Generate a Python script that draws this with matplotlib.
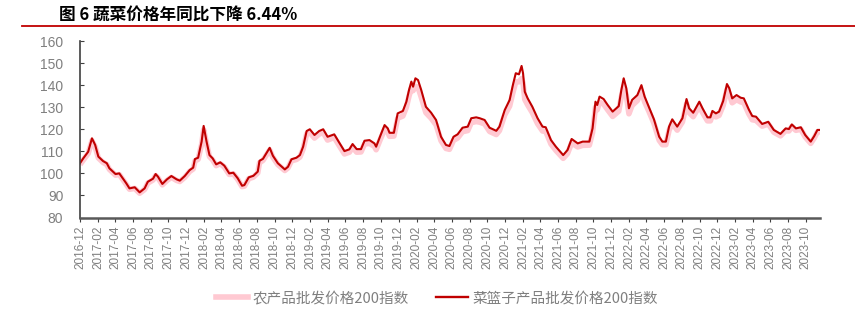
import pandas as pd
import matplotlib
matplotlib.use("Agg")
import matplotlib.pyplot as plt
import matplotlib.dates as mdates
from matplotlib.lines import Line2D

plt.rcParams["font.family"] = ["Noto Sans CJK SC", "DejaVu Sans"]

# fechas (aprox.)
fechas = [
    "2016-12-01", "2016-12-12", "2016-12-29", "2017-01-11", "2017-01-22", "2017-02-02", "2017-02-18",
    "2017-03-03", "2017-03-12", "2017-04-02", "2017-04-15", "2017-05-09", "2017-05-20", "2017-06-07",
    "2017-06-24", "2017-07-11", "2017-07-22", "2017-08-09", "2017-08-18", "2017-08-26", "2017-09-10",
    "2017-09-26", "2017-10-11", "2017-10-29", "2017-11-09", "2017-11-26", "2017-12-13", "2017-12-25",
    "2017-12-31", "2018-01-11", "2018-01-23", "2018-01-30", "2018-02-09", "2018-02-19", "2018-03-02",
    "2018-03-14", "2018-03-28", "2018-04-11", "2018-04-28", "2018-05-12", "2018-05-27", "2018-06-11",
    "2018-06-19", "2018-07-04", "2018-07-20", "2018-08-04", "2018-08-10", "2018-08-22", "2018-09-02",
    "2018-09-14", "2018-09-25", "2018-10-12", "2018-11-05", "2018-11-16", "2018-11-28",
    "2018-12-15", "2018-12-27", "2019-01-07", "2019-01-19", "2019-01-30", "2019-02-15", "2019-03-03",
    "2019-03-17", "2019-04-01", "2019-04-24", "2019-05-09", "2019-05-29", "2019-06-15", "2019-06-26",
    "2019-07-10", "2019-07-25", "2019-08-06", "2019-08-23", "2019-09-09", "2019-09-15", "2019-09-29",
    "2019-10-14", "2019-10-25", "2019-10-31", "2019-11-15", "2019-11-28",
    "2019-12-16", "2019-12-28", "2020-01-06", "2020-01-14", "2020-01-20", "2020-01-28", "2020-02-06",
    "2020-02-17", "2020-03-04", "2020-03-22", "2020-04-08", "2020-04-25", "2020-05-12", "2020-05-24",
    "2020-06-07", "2020-06-21", "2020-07-08", "2020-07-26", "2020-08-07", "2020-08-24", "2020-09-05",
    "2020-09-22", "2020-10-09", "2020-11-01", "2020-11-12", "2020-11-30",
    "2020-12-17", "2020-12-28", "2021-01-07", "2021-01-18", "2021-01-27", "2021-02-01", "2021-02-07",
    "2021-02-17", "2021-03-05", "2021-03-23", "2021-04-09",
    "2021-04-20", "2021-05-08", "2021-05-25", "2021-06-19", "2021-07-04", "2021-07-18", "2021-08-08",
    "2021-08-25", "2021-09-17", "2021-09-28",
    "2021-10-08", "2021-10-14", "2021-10-22", "2021-11-05", "2021-11-19", "2021-12-06", "2021-12-27",
    "2022-01-05", "2022-01-13", "2022-01-22", "2022-01-31", "2022-02-11", "2022-03-01", "2022-03-15",
    "2022-03-26",
    "2022-04-10", "2022-04-27", "2022-05-15", "2022-05-26", "2022-06-07", "2022-06-18", "2022-06-29",
    "2022-07-16", "2022-08-03", "2022-08-17", "2022-08-26", "2022-09-09", "2022-09-30", "2022-10-11",
    "2022-10-28", "2022-11-07", "2022-11-14", "2022-11-26",
    "2022-12-07", "2022-12-21", "2023-01-03", "2023-01-11", "2023-01-21", "2023-02-05", "2023-02-19",
    "2023-03-02", "2023-03-19", "2023-03-31", "2023-04-13",
    "2023-05-04", "2023-05-25", "2023-06-13", "2023-07-06", "2023-07-24", "2023-08-04", "2023-08-14",
    "2023-08-28", "2023-09-14", "2023-09-29", "2023-10-18", "2023-10-30", "2023-11-10", "2023-11-18",
]

# 菜篮子产品批发价格200指数
cesta = [
    104.6, 106.8, 109.8, 115.9, 112.9, 107.6, 105.6, 104.6, 102.3, 99.7, 100.0, 95.5, 93.2, 93.7,
    91.4, 93.2, 96.2, 97.6, 99.7, 98.5, 95.2, 97.3, 98.8, 97.3, 96.7, 98.8, 101.5, 102.6,
    106.5, 107.1, 114.4, 121.5, 114.4, 108.3, 106.8, 104.1, 105.0, 103.5, 100.0, 100.3, 97.8, 94.4,
    94.7, 98.2, 98.9, 100.8, 105.7, 106.6, 109.0, 111.6, 108.0, 104.6, 101.8, 103.0, 106.4,
    107.1, 108.3, 112.1, 119.2, 120.0, 117.4, 119.2, 120.0, 116.6, 117.7, 114.4, 110.1, 110.9, 113.3,
    111.0, 111.0, 114.8, 115.1, 113.6, 112.1, 116.9, 121.9, 120.4, 118.4, 118.4, 127.2,
    128.3, 132.5, 137.8, 141.6, 139.3, 143.1, 142.3, 137.8, 130.2, 127.5, 124.2, 116.6, 112.9, 112.4,
    116.6, 117.7, 120.7, 121.2, 125.0, 125.4, 125.0, 124.2, 120.7, 119.3, 121.2, 128.7,
    133.3, 140.0, 145.4, 144.9, 148.7, 145.4, 137.0, 134.0, 130.2, 125.0, 121.2,
    120.9, 115.1, 112.1, 108.3, 110.6, 115.6, 113.6, 114.4, 114.4, 120.4,
    132.5, 131.0, 134.8, 133.7, 131.0, 128.0, 130.5, 137.8, 143.1, 138.6, 129.5, 133.3, 135.5, 140.0,
    134.8,
    130.0, 124.5, 116.6, 114.4, 114.4, 121.2, 124.5, 121.2, 125.0, 133.7, 129.5, 127.5, 132.5, 129.5,
    125.4, 125.4, 128.3, 127.2,
    128.0, 132.8, 140.5, 138.6, 134.0, 135.5, 134.3, 134.0, 129.0, 126.0, 125.7,
    122.4, 123.4, 119.7, 117.9, 120.4, 120.1, 122.2, 120.4, 120.9, 117.4, 114.4, 116.9, 119.7, 119.7,
]

# 农产品批发价格200指数
agro = [
    104.0, 106.0, 109.0, 114.8, 112.0, 107.0, 105.0, 104.0, 101.8, 99.2, 99.5, 95.0, 92.8, 93.2,
    91.0, 92.7, 95.6, 97.0, 99.0, 98.0, 94.8, 96.8, 98.2, 96.8, 96.3, 98.2, 100.9, 102.0,
    105.6, 106.4, 113.2, 119.8, 113.4, 107.6, 106.1, 103.5, 104.4, 102.9, 99.5, 99.8, 97.3, 94.0,
    94.2, 97.6, 98.3, 100.2, 104.8, 105.9, 108.2, 110.6, 107.3, 104.0, 101.3, 102.5, 105.7,
    106.3, 107.4, 111.0, 117.9, 118.5, 116.0, 117.8, 118.5, 115.1, 116.3, 113.0, 108.8, 109.6, 111.9,
    109.6, 109.7, 113.3, 113.6, 112.2, 110.7, 115.3, 119.9, 118.6, 116.8, 116.9, 125.0,
    126.0, 130.0, 135.0, 138.5, 137.5, 139.5, 139.0, 134.5, 127.5, 125.0, 122.0, 114.8, 111.3, 110.9,
    115.0, 116.0, 118.9, 119.4, 123.0, 123.5, 123.2, 122.4, 119.0, 117.6, 119.4, 126.5,
    130.5, 136.5, 141.5, 141.5, 143.0, 141.0, 133.5, 131.0, 127.5, 122.5, 119.2,
    119.0, 113.3, 110.4, 106.8, 109.0, 113.8, 112.0, 112.7, 112.8, 118.5,
    130.0, 128.8, 132.3, 131.4, 128.8, 125.8, 128.2, 134.8, 139.5, 135.5, 127.0, 130.8, 133.0, 137.3,
    132.4,
    128.0, 122.7, 115.0, 113.0, 113.0, 119.5, 122.8, 119.6, 123.3, 131.5, 127.6, 125.7, 130.5, 127.6,
    123.8, 123.8, 126.6, 125.6,
    126.3, 130.8, 138.0, 136.0, 132.0, 133.4, 132.4, 132.0, 127.0, 124.3, 124.0,
    121.4, 122.4, 118.7, 117.0, 119.4, 119.2, 121.2, 119.5, 120.0, 116.5, 113.6, 116.0, 118.8, 118.9,
]

titulo = "图 6 蔬菜价格年同比下降 6.44%"
nombres = ["农产品批发价格200指数", "菜篮子产品批发价格200指数"]

df = pd.DataFrame({"fecha": pd.to_datetime(fechas), "cesta": cesta, "agro": agro})

rojo = "#C00000"
rosa = "#FFC9D2"
gris = "#7F7F7F"

fig = plt.figure(figsize=(8.55, 3.23), dpi=100)
ax = fig.add_axes([0.0936, 0.3266, 0.8655, 0.5464])

ax.plot(df["fecha"], df["agro"], color=rosa, lw=4, solid_capstyle="butt")
ax.plot(df["fecha"], df["cesta"], color=rojo, lw=1.5)

ax.set_ylim(80, 160)
ax.set_yticks(range(80, 161, 10))
ax.set_xlim(pd.Timestamp("2016-12-01"), pd.Timestamp("2023-11-19"))
ax.xaxis.set_major_locator(mdates.MonthLocator(bymonth=[2, 4, 6, 8, 10, 12]))
ax.xaxis.set_major_formatter(mdates.DateFormatter("%Y-%m"))

for lado in ["top", "right"]:
    ax.spines[lado].set_visible(False)
ax.spines["left"].set_color("#404040")
ax.spines["left"].set_linewidth(1.2)
ax.spines["bottom"].set_color("#595959")
ax.spines["bottom"].set_linewidth(1.8)

ax.tick_params(axis="y", direction="in", length=3, colors="#404040", labelcolor=gris,
               labelsize=10, pad=12)
ax.tick_params(axis="x", direction="out", length=3, colors="#404040", labelcolor=gris,
               labelsize=8.5, rotation=90, pad=3)
for t in ax.get_xticklabels() + ax.get_yticklabels():
    t.set_family("Liberation Sans")

# título y línea roja
fig.text(0.069, 0.953, titulo, fontsize=12, fontweight="bold", color="black", va="center")
fig.add_artist(Line2D([0.026, 1.0], [0.918, 0.918], color=rojo, lw=1.3))

manejadores = [Line2D([], [], color=rosa, lw=4), Line2D([], [], color=rojo, lw=1.7)]
fig.legend(manejadores, nombres, loc="center", bbox_to_anchor=(0.511, 0.077), ncol=2,
           frameon=False, fontsize=10.5, labelcolor=gris, handlelength=2.2,
           columnspacing=1.9, handletextpad=0.3)

fig.savefig("out.png", dpi=100)
